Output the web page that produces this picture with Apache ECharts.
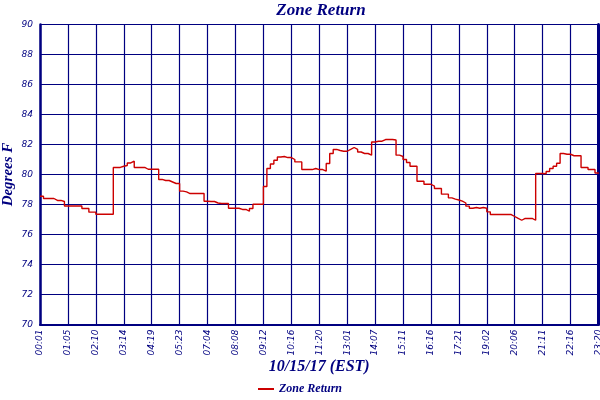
<!DOCTYPE html>
<html lang="en" style="height: 100%">

<head>
  <meta charset="utf-8">
</head>

<body style="height: 100%; margin: 0; background: #fff;">
  <div id="container" style="height: 100%;"></div>

  <script type="text/javascript" src="https://cdn.jsdelivr.net/npm/echarts@6/dist/echarts.min.js"></script>

  <script type="text/javascript">
    // tick labels along the bottom, one every 8 readings
    var timeLabels = ['00:01', '01:05', '02:10', '03:14', '04:19', '05:23', '07:04', '08:08', '09:12', '10:16',
      '11:20', '13:01', '14:07', '15:11', '16:16', '17:21', '19:02', '20:06', '21:11', '22:16', '23:20'];
    var pointsPerLabel = 8;

    // zone return temperature, deg F
    var zoneReturn = [
      78.55, 78.4, 78.4, 78.4, 78.27, 78.27, 78.2, 77.9, 77.9, 77.9,
      77.9, 77.9, 77.73, 77.73, 77.49, 77.49, 77.35, 77.35, 77.35, 77.35,
      77.35, 80.47, 80.47, 80.55, 80.6, 80.77, 80.89, 80.47, 80.47, 80.47,
      80.35, 80.35, 80.35, 80.35, 79.67, 79.6, 79.6, 79.5, 79.4, 79.4,
      78.89, 78.84, 78.73, 78.73, 78.73, 78.73, 78.73, 78.22, 78.2, 78.2,
      78.1, 78.07, 78.07, 78.07, 77.75, 77.75, 77.75, 77.67, 77.67, 77.55,
      77.73, 78.02, 78.02, 78.02, 79.2, 80.4, 80.7, 80.95, 81.17, 81.2,
      81.13, 81.13, 81.0, 80.84, 80.84, 80.33, 80.33, 80.33, 80.4, 80.33,
      80.33, 80.22, 80.73, 81.4, 81.67, 81.6, 81.55, 81.55, 81.67, 81.8,
      81.67, 81.5, 81.4, 81.4, 81.29, 82.17, 82.22, 82.22, 82.33, 82.33,
      82.33, 82.3, 81.29, 81.2, 81.0, 80.8, 80.55, 80.55, 79.55, 79.55,
      79.35, 79.35, 79.22, 79.07, 79.07, 78.69, 78.69, 78.44, 78.36, 78.3,
      78.22, 78.1, 77.89, 77.75, 77.8, 77.75, 77.8, 77.75, 77.51, 77.33,
      77.33, 77.33, 77.33, 77.33, 77.33, 77.2, 77.07, 76.95, 77.07, 77.07,
      77.07, 76.95, 80.07, 80.07, 80.05, 80.2, 80.4, 80.55, 80.75, 81.4,
      81.35, 81.35, 81.25, 81.25, 81.25, 80.47, 80.47, 80.33, 80.33, 80.1,
      80.05
    ];

    var navy = '#000080';
    var labelFont = 'DejaVu Sans';
    var titleFont = 'Liberation Serif';

    var categories = zoneReturn.map(function (v, i) { return String(i); });
    var onTick = function (index) { return index % pointsPerLabel === 0; };

    var dom = document.getElementById('container');
    var myChart = echarts.init(dom, null, { renderer: 'canvas' });

    var option = {
      animation: false,
      backgroundColor: '#fff',
      title: {
        text: 'Zone Return',
        left: 316,
        textAlign: 'center',
        top: -3,
        textStyle: {
          color: navy, fontFamily: titleFont, fontStyle: 'italic',
          fontWeight: 'bold', fontSize: 17
        }
      },
      legend: {
        bottom: 0,
        left: 'center',
        itemWidth: 16,
        itemHeight: 2,
        icon: 'rect',
        textStyle: {
          color: navy, fontFamily: titleFont, fontStyle: 'italic',
          fontWeight: 'bold', fontSize: 12
        },
        data: ['Zone Return']
      },
      grid: { left: 40, right: 1.5, top: 24.5, bottom: 75.5, outerBoundsMode: 'none', containLabel: false },
      xAxis: {
        type: 'category',
        data: categories,
        boundaryGap: false,
        name: '10/15/17 (EST)',
        nameLocation: 'middle',
        nameGap: 34,
        nameMoveOverlap: false,
        nameTextStyle: {
          color: navy, fontFamily: titleFont, fontStyle: 'italic',
          fontWeight: 'bold', fontSize: 16
        },
        axisLine: { lineStyle: { color: navy, width: 2 } },
        axisTick: { show: false },
        axisLabel: {
          interval: onTick,
          rotate: 90,
          margin: 5,
          color: navy,
          fontFamily: labelFont,
          fontStyle: 'italic',
          fontSize: 9,
          formatter: function (value, index) {
            return timeLabels[Math.floor(index / pointsPerLabel)];
          }
        },
        splitLine: { show: true, interval: onTick, lineStyle: { color: navy, width: 1.2 } }
      },
      yAxis: [
        {
          type: 'value',
          min: 70,
          max: 90,
          interval: 2,
          name: 'Degrees F',
          nameLocation: 'middle',
          nameGap: 24,
          nameMoveOverlap: false,
          nameTextStyle: {
            color: navy, fontFamily: titleFont, fontStyle: 'italic',
            fontWeight: 'bold', fontSize: 15
          },
          axisLine: { show: true, lineStyle: { color: navy, width: 2.5 } },
          axisTick: { show: false },
          axisLabel: {
            color: navy, fontFamily: labelFont, fontStyle: 'italic',
            fontSize: 9, margin: 7
          },
          splitLine: { lineStyle: { color: navy, width: 1.2 } }
        },
        {
          type: 'value',
          position: 'right',
          min: 70,
          max: 90,
          axisLine: { show: true, lineStyle: { color: navy, width: 3 } },
          axisTick: { show: false },
          axisLabel: { show: false },
          splitLine: { show: false }
        }
      ],
      series: [
        {
          name: 'Zone Return',
          type: 'line',
          step: 'end',
          data: zoneReturn,
          showSymbol: false,
          lineStyle: { color: '#cc0000', width: 1.4 },
          itemStyle: { color: '#cc0000' }
        }
      ]
    };

    myChart.setOption(option);
    window.addEventListener('resize', myChart.resize);
  </script>
</body>

</html>
